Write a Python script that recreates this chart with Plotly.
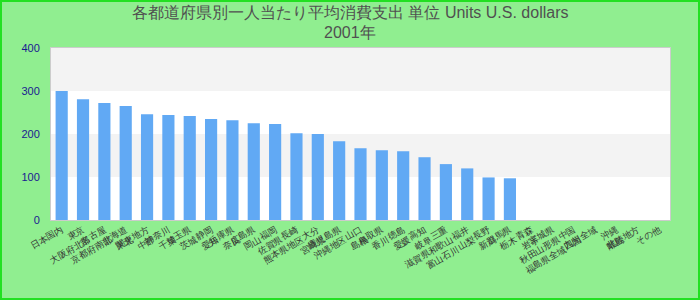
import plotly.graph_objects as go

categories = [
    "日本国内", "東京<br>大阪府北部", "名古屋<br>京都府南部", "北海道<br>東北", "関東地方<br>中部", "神奈川<br>千葉",
    "埼玉県<br>茨城", "静岡<br>愛知", "兵庫県<br>奈良", "広島県<br>岡山", "福岡<br>佐賀県", "長崎<br>熊本県地区",
    "大分<br>宮崎県", "鹿児島県<br>沖縄地区", "山口<br>島根", "鳥取県<br>香川", "徳島<br>愛媛", "高知<br>岐阜",
    "三重<br>滋賀県和歌山<br>富山石川", "福井<br>山梨", "長野<br>新潟", "群馬県<br>栃木", "青森<br>岩手",
    "宮城県<br>秋田山形県<br>福島県全域", "中国<br>四国", "九州全域", "沖縄<br>離島", "北陸地方", "その他",
]
values = [300, 281, 272, 265, 246, 244, 242, 235, 232, 225, 223, 202, 200, 183,
          167, 162, 160, 146, 130, 120, 99, 97,
          None, None, None, None, None, None, None]
y_ticks = [0, 100, 200, 300, 400]
title_line1 = "各都道府県別一人当たり平均消費支出 単位 Units U.S. dollars"
title_line2 = "2001年"

W, H = 700, 300
ml, mr, mt, mb = 51, 30, 48, 80
pw, ph = W - ml - mr, H - mt - mb

fig = go.Figure()
fig.add_trace(go.Bar(x=categories, y=values, marker=dict(color="#61a9f4", line=dict(width=0)),
                     hoverinfo="x+y"))

# alternating horizontal bands
for i in range(len(y_ticks) - 1):
    if i % 2 == 1:
        fig.add_shape(type="rect", xref="paper", yref="y", x0=0, x1=1,
                      y0=y_ticks[i], y1=y_ticks[i + 1], fillcolor="#f3f3f3",
                      line=dict(width=0), layer="below")

# outer page border
fig.add_shape(type="rect", xref="paper", yref="paper",
              x0=(-ml + 1) / pw, x1=(pw + mr - 1) / pw,
              y0=(-mb + 1) / ph, y1=(ph + mt - 1) / ph,
              line=dict(color="#22e022", width=2), fillcolor="rgba(0,0,0,0)", layer="below")

tfont = dict(family="Liberation Sans, Arial, sans-serif", size=16, color="#505050")
cx = (350 - ml) / pw
fig.add_annotation(text=title_line1, xref="paper", yref="paper", x=cx, y=(H - mb - 12) / ph,
                   xanchor="center", yanchor="middle", showarrow=False, font=tfont)
fig.add_annotation(text=title_line2, xref="paper", yref="paper", x=cx, y=(H - mb - 32) / ph,
                   xanchor="center", yanchor="middle", showarrow=False, font=tfont)

fig.update_layout(
    width=W, height=H,
    margin=dict(l=ml, r=mr, t=mt, b=mb, pad=0, autoexpand=False),
    paper_bgcolor="#90ee90",
    plot_bgcolor="#ffffff",
    bargap=0.43,
    showlegend=False,
    font=dict(family="Liberation Sans, Arial, sans-serif"),
)
fig.update_xaxes(tickangle=-30, tickfont=dict(size=9, color="#333333"), showgrid=False,
                 showline=True, linecolor="#cccccc", linewidth=1, mirror=True, ticks="",
                 zeroline=False, automargin=False)
fig.update_yaxes(range=[0, 400], tickvals=y_ticks, tickfont=dict(size=11, color="#1a1a90"),
                 showgrid=False, zeroline=False, showline=True, linecolor="#cccccc",
                 linewidth=1, mirror=True, ticks="outside", ticklen=8, tickcolor="rgba(0,0,0,0)",
                 automargin=False)

fig.write_html("out.html")
